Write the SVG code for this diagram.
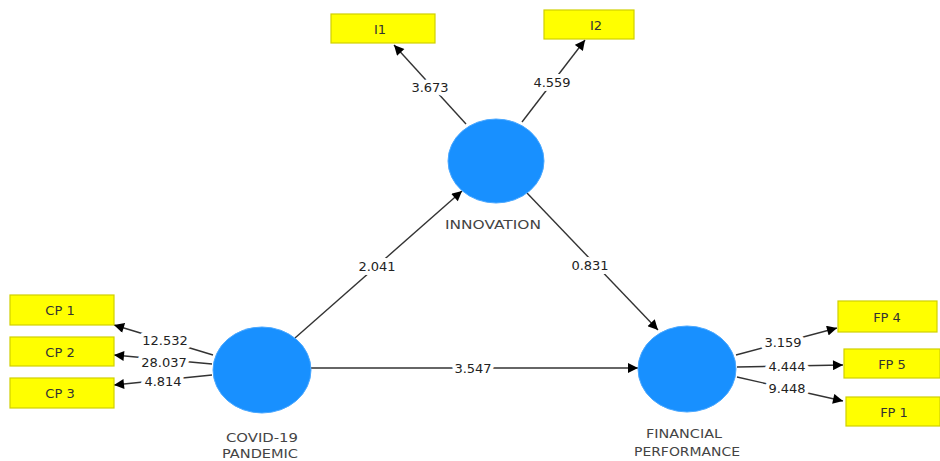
<svg xmlns="http://www.w3.org/2000/svg" width="940" height="461" viewBox="0 0 940 461">
  <defs>
    <marker id="arrow" viewBox="0 0 10 10" refX="10" refY="5" markerWidth="11" markerHeight="10" markerUnits="userSpaceOnUse" orient="auto">
      <path d="M0,0 L10,5 L0,10 Z" fill="#000"/>
    </marker>
    <style>
      .edge { stroke: #333; stroke-width: 1.4; fill: none; marker-end: url(#arrow); }
      .val { font-family: "DejaVu Sans", sans-serif; font-size: 13px; fill: #222; text-anchor: middle; dominant-baseline: central; stroke: #fff; stroke-width: 8; stroke-linejoin: round; paint-order: stroke; }
      .ind rect { fill: #ffff00; stroke: #d0d000; stroke-width: 1.2; }
      .ind text { font-family: "DejaVu Sans", sans-serif; font-size: 13px; fill: #333; text-anchor: middle; dominant-baseline: central; }
      .lv ellipse { fill: #1890ff; stroke: #4aa8ff; stroke-width: 1; }
      .lv text { font-family: "DejaVu Sans", sans-serif; font-size: 13px; fill: #444; text-anchor: middle; dominant-baseline: central; }
    </style>
  </defs>

  <rect width="940" height="461" fill="#fff"/>

  <!-- connectors -->
  <g id="connectors">
    <line class="edge" x1="466" y1="124" x2="394" y2="45"/>
    <line class="edge" x1="522" y1="122" x2="585" y2="40"/>
    <line class="edge" x1="295" y1="338" x2="462" y2="191"/>
    <line class="edge" x1="527" y1="193" x2="658" y2="330"/>
    <line class="edge" x1="311" y1="368" x2="638" y2="368"/>
    <line class="edge" x1="213" y1="355" x2="114" y2="325"/>
    <line class="edge" x1="212" y1="364" x2="114" y2="355"/>
    <line class="edge" x1="212" y1="375" x2="114" y2="385"/>
    <line class="edge" x1="736" y1="355" x2="837" y2="328"/>
    <line class="edge" x1="737" y1="367" x2="843" y2="365"/>
    <line class="edge" x1="737" y1="377" x2="843" y2="401"/>

    <text class="val" x="430" y="87">3.673</text>
    <text class="val" x="552" y="82">4.559</text>
    <text class="val" x="377" y="266">2.041</text>
    <text class="val" x="590" y="265">0.831</text>
    <text class="val" x="473" y="368">3.547</text>
    <text class="val" x="165" y="340">12.532</text>
    <text class="val" x="164" y="362">28.037</text>
    <text class="val" x="163" y="381">4.814</text>
    <text class="val" x="783" y="342">3.159</text>
    <text class="val" x="787" y="366">4.444</text>
    <text class="val" x="787" y="388">9.448</text>
  </g>

  <!-- latent variables -->
  <g id="innovation" class="lv">
    <ellipse cx="496" cy="161" rx="48" ry="42"/>
    <text x="493" y="224" textLength="96" lengthAdjust="spacingAndGlyphs">INNOVATION</text>
  </g>
  <g id="covid" class="lv">
    <ellipse cx="262" cy="370" rx="49" ry="43"/>
    <text x="262" y="437" textLength="72" lengthAdjust="spacingAndGlyphs">COVID-19</text>
    <text x="260" y="453" textLength="76" lengthAdjust="spacingAndGlyphs">PANDEMIC</text>
  </g>
  <g id="financial" class="lv">
    <ellipse cx="687" cy="369" rx="49" ry="43"/>
    <text x="684" y="433" textLength="76" lengthAdjust="spacingAndGlyphs">FINANCIAL</text>
    <text x="687" y="451" textLength="106" lengthAdjust="spacingAndGlyphs">PERFORMANCE</text>
  </g>

  <!-- indicators -->
  <g id="i1" class="ind">
    <rect x="331" y="14" width="104" height="29"/>
    <text x="380" y="29">I1</text>
  </g>
  <g id="i2" class="ind">
    <rect x="544" y="10" width="90" height="29"/>
    <text x="596" y="25">I2</text>
  </g>
  <g id="cp1" class="ind">
    <rect x="10" y="295" width="104" height="30"/>
    <text x="60" y="310">CP 1</text>
  </g>
  <g id="cp2" class="ind">
    <rect x="10" y="337" width="104" height="29"/>
    <text x="60" y="352">CP 2</text>
  </g>
  <g id="cp3" class="ind">
    <rect x="10" y="378" width="104" height="30"/>
    <text x="60" y="393">CP 3</text>
  </g>
  <g id="fp4" class="ind">
    <rect x="838" y="301" width="99" height="31"/>
    <text x="887" y="317">FP 4</text>
  </g>
  <g id="fp5" class="ind">
    <rect x="844" y="349" width="96" height="29"/>
    <text x="892" y="364">FP 5</text>
  </g>
  <g id="fp1" class="ind">
    <rect x="846" y="397" width="94" height="29"/>
    <text x="894" y="412">FP 1</text>
  </g>
</svg>
